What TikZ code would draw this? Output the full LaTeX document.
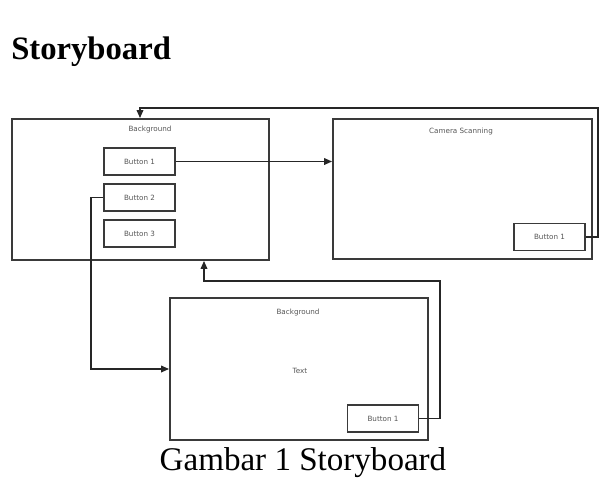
\documentclass[tikz,border=0pt]{standalone}
\usepackage{fontspec}
\setmainfont{Liberation Serif}
\newfontfamily\lblfont{DejaVu Sans}
\usetikzlibrary{arrows.meta}
\definecolor{boxc}{HTML}{3A3A3A}
\definecolor{lblc}{HTML}{555555}
\begin{document}
\begin{tikzpicture}[x=0.75pt,y=-0.75pt,
  screen/.style={draw=boxc,line width=1.4pt,inner sep=0pt},
  btn/.style={draw=boxc,line width=1.2pt,inner sep=0pt,minimum width=53.25pt,minimum height=20.25pt,font=\lblfont\fontsize{5.4}{6}\selectfont,text=lblc},
  lbl/.style={font=\lblfont\fontsize{5.4}{6}\selectfont,text=lblc,inner sep=0pt},
  conn/.style={draw=black!85,line width=1.1pt,-{Triangle[length=6pt,width=5pt]}}]
\useasboundingbox (0,0) rectangle (604,486);
\node[anchor=base west,inner sep=0pt,font=\fontsize{24.5}{28}\selectfont\bfseries] (title) at (11,59) {Storyboard};
% left screen
\node[screen,minimum width=192.75pt,minimum height=105.75pt] (s1) at (140.5,189.5) {};
\node[lbl] (s1t) at (150,130) {Background};
\node[btn] (b1) at (139.5,161.5) {Button 1};
\node[btn] (b2) at (139.5,197.5) {Button 2};
\node[btn] (b3) at (139.5,233.5) {Button 3};
% right screen
\node[screen,minimum width=194.25pt,minimum height=105pt] (s2) at (462.5,189) {};
\node[lbl] (s2t) at (461,132) {Camera Scanning};
\node[btn] (b4) at (549.5,237) {Button 1};
% bottom screen
\node[screen,minimum width=193.5pt,minimum height=106.5pt] (s3) at (299,369) {};
\node[lbl] (s3t) at (298,313) {Background};
\node[lbl] (s3x) at (300,371) {Text};
\node[btn] (b5) at (383,418.5) {Button 1};
% caption
\node[anchor=base,inner sep=0pt,font=\fontsize{24.8}{28}\selectfont] (cap) at (303,470) {Gambar 1 Storyboard};
% connectors
\draw[conn] (b1.east) -- (b1.east -| s2.west);
\coordinate (c2) at (91,197.5);
\draw[conn] (b2.west) -- (c2) |- (s3.west);
\coordinate (c3a) at (598,237);
\coordinate (c3b) at (598,108);
\coordinate (c3c) at (140,108);
\draw[conn] (b4.east) -- (c3a) -- (c3b) -- (c3c) -- (c3c |- s1.north);
\coordinate (c4a) at (440,418.5);
\coordinate (c4b) at (440,281);
\coordinate (c4c) at (204,281);
\draw[conn] (b5.east) -- (c4a) -- (c4b) -- (c4c) -- (c4c |- s1.south);
\end{tikzpicture}
\end{document}
